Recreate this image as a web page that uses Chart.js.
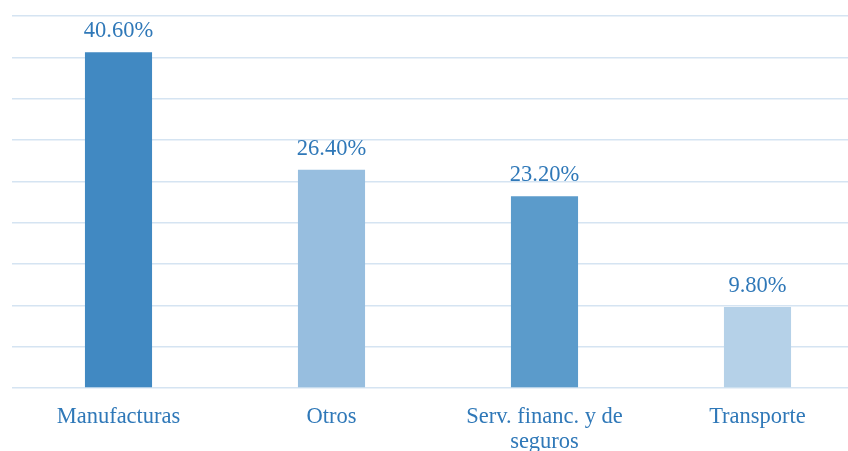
<!DOCTYPE html>
<html><head><meta charset="utf-8">
<script src="https://cdn.jsdelivr.net/npm/chart.js@4"></script>
<style>
html,body{margin:0;padding:0;background:#fff;overflow:hidden;}
#wrap{width:866px;height:451px;position:relative;}
</style></head>
<body>
<div id="wrap"><canvas id="c"></canvas></div>
<script>
const categories = ['Manufacturas', 'Otros', ['Serv. financ. y de', 'seguros'], 'Transporte'];
const values = [40.6, 26.4, 23.2, 9.8];
const valueLabels = ['40.60%', '26.40%', '23.20%', '9.80%'];
const barColors = ['#4189C2', '#97BEDF', '#5B9BCB', '#B5D1E8'];
const yTicks = {min: 0, max: 45, step: 5};

const textBlue = '#2F78B8';

const dataLabelPlugin = {
  id: 'dataLabels',
  afterDatasetsDraw(chart) {
    const ctx = chart.ctx;
    const meta = chart.getDatasetMeta(0);
    ctx.save();
    ctx.font = '22.5px "Liberation Serif", "Times New Roman", serif';
    ctx.fillStyle = textBlue;
    ctx.textAlign = 'center';
    ctx.textBaseline = 'alphabetic';
    meta.data.forEach((bar, i) => {
      ctx.fillText(valueLabels[i], bar.x, bar.y - 15);
    });
    ctx.restore();
  }
};

new Chart(document.getElementById('c'), {
  type: 'bar',
  data: {
    labels: categories,
    datasets: [{
      data: values,
      backgroundColor: barColors,
      borderWidth: 0,
      categoryPercentage: 1,
      barPercentage: 0.315
    }]
  },
  options: {
    responsive: true,
    maintainAspectRatio: false,
    animation: false,
    layout: {padding: {left: 12, top: 16, right: 2, bottom: 0}},
    plugins: {legend: {display: false}, tooltip: {enabled: false}},
    scales: {
      x: {
        grid: {display: false},
        border: {display: false},
        ticks: {
          color: textBlue,
          font: {family: '"Liberation Serif", "Times New Roman", serif', size: 22.5, lineHeight: 1.1},
          padding: 9,
          maxRotation: 0,
          autoSkip: false
        },
        afterFit(scale) { scale.height = 63; }
      },
      y: {
        min: yTicks.min,
        max: yTicks.max,
        ticks: {display: false, stepSize: yTicks.step},
        border: {display: false},
        grid: {color: '#D5E4F2', lineWidth: 1.5, drawTicks: false}
      }
    }
  },
  plugins: [dataLabelPlugin]
});
</script>
</body></html>
